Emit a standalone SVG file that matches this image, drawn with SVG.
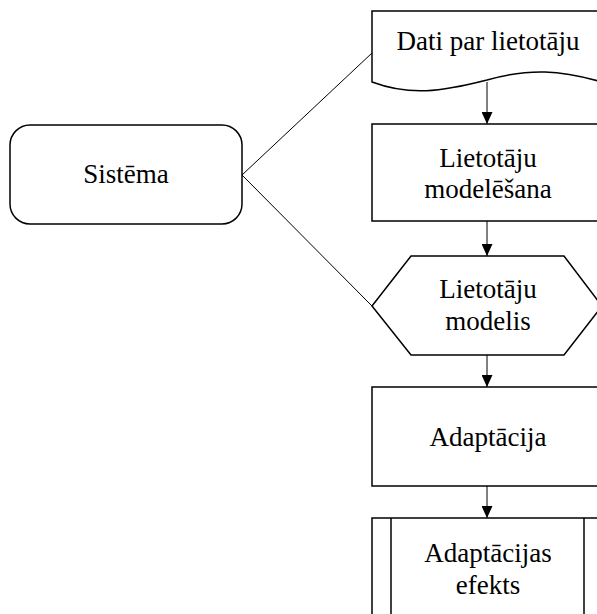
<svg xmlns="http://www.w3.org/2000/svg" width="597" height="614" viewBox="0 0 597 614">
<style>
.s{fill:#fff;stroke:#000;stroke-width:1.5}
.c{fill:none;stroke:#000;stroke-width:1}
.t{font-family:"Liberation Serif","Times New Roman",serif;font-size:27px;fill:#000;text-anchor:middle}
</style>
<defs>
<marker id="ah" viewBox="0 0 12 11" refX="12" refY="5.5" markerWidth="12" markerHeight="11" markerUnits="userSpaceOnUse" orient="auto">
<path d="M0,0 L12,5.5 L0,11 z" fill="#000"/>
</marker>
</defs>
<rect width="597" height="614" fill="#fff"/>
<g id="connectors">
<line class="c" x1="242" y1="175" x2="372" y2="53"/>
<line class="c" x1="242" y1="175" x2="372" y2="306"/>
<line class="c" x1="487" y1="82" x2="487" y2="124" marker-end="url(#ah)"/>
<line class="c" x1="487" y1="221" x2="487" y2="256" marker-end="url(#ah)"/>
<line class="c" x1="487" y1="355" x2="487" y2="387" marker-end="url(#ah)"/>
<line class="c" x1="487" y1="486" x2="487" y2="518" marker-end="url(#ah)"/>
</g>
<g id="sistema">
<rect class="s" x="10" y="125" width="232" height="99" rx="20" ry="20"/>
<text class="t" x="126" y="183">Sistēma</text>
</g>
<g id="dati">
<path class="s" d="M372,11 H602 V82 C560,70 530,68 487,80 C440,92 410,96 372,82 Z"/>
<text class="t" x="488" y="50">Dati par lietotāju</text>
</g>
<g id="modelesana">
<rect class="s" x="372" y="124" width="230" height="97"/>
<text class="t" x="488" y="167">Lietotāju</text>
<text class="t" x="488" y="198">modelēšana</text>
</g>
<g id="modelis">
<path class="s" d="M372,306 L411,256 H564 L602,306 L564,355 H411 Z"/>
<text class="t" x="488" y="298">Lietotāju</text>
<text class="t" x="488" y="330">modelis</text>
</g>
<g id="adaptacija">
<rect class="s" x="372" y="387" width="230" height="99"/>
<text class="t" x="488" y="446">Adaptācija</text>
</g>
<g id="efekts">
<rect class="s" x="372" y="518" width="230" height="100"/>
<line class="s" x1="391" y1="518" x2="391" y2="618"/>
<line class="s" x1="584" y1="518" x2="584" y2="618"/>
<text class="t" x="488" y="562">Adaptācijas</text>
<text class="t" x="488" y="594">efekts</text>
</g>
</svg>
